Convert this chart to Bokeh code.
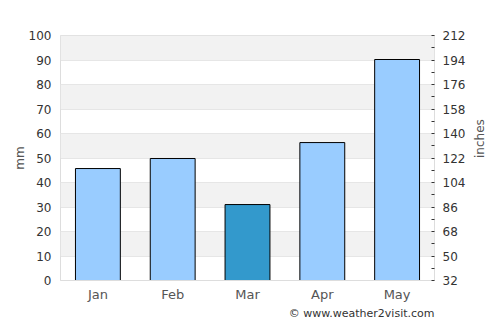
import math
from bokeh.plotting import figure
from bokeh.models import (FactorRange, Range1d, LinearAxis, FixedTicker, Title,
                          ColumnDataSource)
from bokeh.embed import file_html
from bokeh.resources import INLINE

months = ["Jan", "Feb", "Mar", "Apr", "May"]
rain_mm = [45.7, 49.8, 31.0, 56.3, 90.2]
bar_colors = ["#99ccff", "#99ccff", "#3399cc", "#99ccff", "#99ccff"]
left_ticks = [0, 10, 20, 30, 40, 50, 60, 70, 80, 90, 100]
right_ticks = [32, 50, 68, 86, 104, 122, 140, 158, 176, 194, 212]
right_minor = [41, 59, 77, 95, 113, 131, 149, 167, 185, 203]

src = ColumnDataSource(dict(x=months, top=rain_mm, color=bar_colors))

FONT = "DejaVu Sans"
p = figure(width=500, height=325, x_range=FactorRange(*months, range_padding=0),
           y_range=Range1d(0, 100), output_backend="svg", toolbar_location=None,
           min_border_left=60, min_border_right=66, min_border_top=35, min_border_bottom=45)
p.x_range.range_padding = 0
p.background_fill_color = "white"
p.outline_line_color = "#dddddd"

p.vbar(x="x", top="top", width=0.6, fill_color="color", line_color="black",
       line_width=1, source=src)

p.yaxis.ticker = FixedTicker(ticks=left_ticks)
p.yaxis.axis_label = "mm"
p.yaxis.axis_line_color = None
p.yaxis.major_tick_line_color = None
p.yaxis.minor_tick_line_color = None
p.yaxis.major_tick_out = 0
p.yaxis.minor_tick_out = 0
p.yaxis.major_label_text_font = FONT
p.yaxis.major_label_text_font_size = "12px"
p.yaxis.major_label_text_color = "#333333"
p.yaxis.major_label_standoff = 9
p.yaxis.axis_label_text_font = FONT
p.yaxis.axis_label_text_font_size = "12px"
p.yaxis.axis_label_text_font_style = "normal"
p.yaxis.axis_label_text_color = "#555555"
p.yaxis.axis_label_standoff = -1

p.xaxis.axis_line_color = "#dddddd"
p.xaxis.major_tick_line_color = None
p.xaxis.major_tick_out = 0
p.xaxis.minor_tick_out = 0
p.xaxis.major_label_text_font = FONT
p.xaxis.major_label_text_font_size = "13px"
p.xaxis.major_label_text_color = "#555555"
p.xaxis.major_label_standoff = 6

p.xgrid.grid_line_color = None
p.ygrid.ticker = FixedTicker(ticks=left_ticks)
p.ygrid.grid_line_color = "#e6e6e6"
p.ygrid.band_fill_color = "#f2f2f2"
p.ygrid.band_fill_alpha = 1

p.extra_y_ranges = {"f": Range1d(32, 212)}
ax = LinearAxis(y_range_name="f", ticker=FixedTicker(ticks=right_ticks, minor_ticks=right_minor))
ax.axis_label = "inches"
ax.axis_label_orientation = math.pi / 2
ax.axis_line_color = None
ax.major_tick_line_color = "#333333"
ax.major_tick_in = 3
ax.major_tick_out = 0
ax.minor_tick_line_color = "#333333"
ax.minor_tick_in = 3
ax.minor_tick_out = 0
ax.major_label_text_font = FONT
ax.major_label_text_font_size = "12px"
ax.major_label_text_color = "#333333"
ax.major_label_standoff = 8
ax.axis_label_text_font = FONT
ax.axis_label_text_font_size = "12px"
ax.axis_label_text_font_style = "normal"
ax.axis_label_text_color = "#555555"
ax.axis_label_standoff = 12
p.add_layout(ax, "right")

credit = Title(text="© www.weather2visit.com", align="right", text_font=FONT,
               text_font_size="11px", text_color="#333333", text_font_style="normal",
               standoff=0, offset=0)
p.add_layout(credit, "below")

open("out.html", "w").write(file_html(p, INLINE))
